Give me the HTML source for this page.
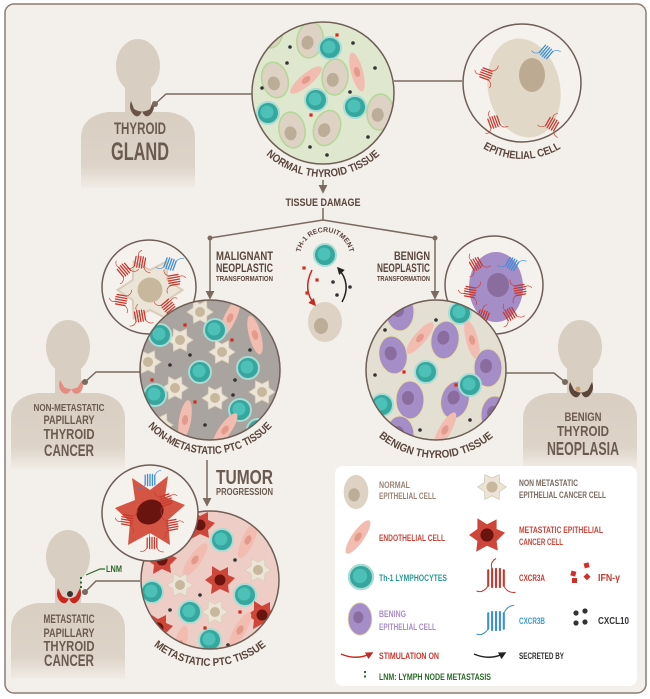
<!DOCTYPE html>
<html><head><meta charset="utf-8"><style>
html,body{margin:0;padding:0;background:#fff;}
svg{display:block;}
text{font-family:"Liberation Sans Narrow","Liberation Sans",sans-serif;font-weight:bold;}
</style></head><body>
<svg width="650" height="699" viewBox="0 0 650 699" xmlns="http://www.w3.org/2000/svg">
<defs>
<linearGradient id="pg" x1="0" y1="0" x2="0" y2="1"><stop offset="0" stop-color="#d9cec2"/><stop offset="0.7" stop-color="#ddd3c8"/><stop offset="1" stop-color="#f1ece6"/></linearGradient>
<g id="person"><ellipse cx="0" cy="0" rx="22" ry="27" fill="#d9cec2"/><rect x="-13" y="14" width="26" height="34" fill="#d9cec2"/><path d="M-57,122 L-57,72 Q-57,50 -30,46 L30,46 Q57,50 57,72 L57,122 Z" fill="url(#pg)"/></g>
<g id="egg"><ellipse rx="13" ry="18" fill="#ddd2c3" stroke="#b2d796" stroke-width="1.5"/><ellipse cx="-2" cy="3" rx="6" ry="7" fill="#bcad98"/></g>
<g id="egg2"><ellipse rx="13" ry="18" fill="#ddd2c3"/><ellipse cx="-2" cy="3" rx="6" ry="7" fill="#bcad98"/></g>
<g id="teal"><circle r="11" fill="#35a79f" stroke="#a8dcd4" stroke-width="2"/><circle cx="-1" cy="-1" r="6.5" fill="#4dc1b7"/></g>
<g id="sp"><ellipse rx="6" ry="20" fill="#f2bcb0"/><ellipse rx="3" ry="5" fill="#e39a8c"/></g>
<g id="star"><polygon points="13,0 6.9,4 6.5,11.3 0,8 -6.5,11.3 -6.9,4 -13,0 -6.9,-4 -6.5,-11.3 0,-8 6.5,-11.3 6.9,-4" fill="#ece4d6" stroke="#d8cdbb" stroke-width="0.8"/><circle r="5" fill="#c7b79d"/></g>
<g id="rstar"><polygon points="15,-2 8,5 9,13 0,9 -9,14 -8,5 -15,0 -8,-5 -8,-14 0,-9 8,-13 8,-5" fill="#cd4639"/><circle r="5.5" fill="#6a1410"/></g>
<g id="pur"><ellipse rx="14" ry="19" fill="#a58dc8" stroke="#e6dca6" stroke-width="1"/><ellipse cx="-2" cy="-2" rx="6" ry="7" fill="#8a6d9e"/></g>
<g id="rA"><path d="M-6,-6v12M-3,-7v14M0,-7v14M3,-7v14M6,-6v12" stroke="#c8382e" stroke-width="1.6" stroke-linecap="round"/><path d="M-6,6q-4,6-9,4M6,6q3,6 9,5M-3,-7q-2,-5 3,-8" stroke="#c8382e" fill="none" stroke-width="0.8"/></g>
<g id="rB"><path d="M-6,-6v12M-3,-7v14M0,-7v14M3,-7v14M6,-6v12" stroke="#3b8ed8" stroke-width="1.6" stroke-linecap="round"/><path d="M-6,6q-4,6-9,4M6,-6q3,-6 8,-6" stroke="#3b8ed8" fill="none" stroke-width="0.8"/></g>
<g id="d"><circle r="1.8" fill="#333"/></g>
<g id="q"><rect x="-1.6" y="-1.6" width="3.2" height="3.2" fill="#d42a20"/></g>
<clipPath id="c1"><circle cx="323" cy="93" r="71"/></clipPath>
<clipPath id="c2"><circle cx="210" cy="370" r="70"/></clipPath>
<clipPath id="c3"><circle cx="436" cy="370" r="70"/></clipPath>
<clipPath id="c4"><circle cx="210" cy="580" r="69"/></clipPath>
<marker id="ar" viewBox="0 0 10 10" refX="8" refY="5" markerWidth="6" markerHeight="6" orient="auto"><path d="M0,0L10,5L0,10z" fill="#7a6a60"/></marker>
<marker id="arr" viewBox="0 0 10 10" refX="8" refY="5" markerWidth="5" markerHeight="5" orient="auto"><path d="M0,0L10,5L0,10z" fill="#c8281e"/></marker>
<marker id="ark" viewBox="0 0 10 10" refX="8" refY="5" markerWidth="5" markerHeight="5" orient="auto"><path d="M0,0L10,5L0,10z" fill="#222"/></marker>
<path id="a1" d="M239,93 A84 84 0 0 0 407,93"/>
<path id="a2" d="M446,83 A76 76 0 0 0 598,83"/>
<path id="a3" d="M126,370 A84 84 0 0 0 294,370"/>
<path id="a4" d="M348,370 A88 88 0 0 0 524,370"/>
<path id="a5" d="M122,578 A88 88 0 0 0 298,578"/>
<path id="a6" d="M300,257 A25 25 0 0 1 350,257"/>
</defs>

<rect x="5" y="4" width="641" height="689" rx="9" fill="#f3efea" stroke="#8c7d73" stroke-width="1.5"/>

<use href="#person" transform="translate(138,66)"/>
<use href="#person" transform="translate(68,347)"/>
<use href="#person" transform="translate(580,347)"/>
<use href="#person" transform="translate(68,557)"/>

<path d="M131,101 q-3,8 3,14 q5,4 8,-4 q3,8 8,4 q6,-6 3,-14 l-3,8 q-8,5 -16,0z" fill="#6a5246"/>
<path d="M60,380 q-3,8 3,13 q5,3 8,-4 q3,7 8,4 q6,-5 3,-13 l-4,7 q-7,4 -14,0z" fill="#e88a80"/>
<path d="M570,382 q-3,9 3,14 q5,4 8,-4 q3,8 8,4 q6,-6 3,-14 l-4,8 q-7,5 -14,0z" fill="#5c463c"/>
<circle cx="578" cy="389" r="2.5" fill="#c9a070"/>
<path d="M58,588 q-3,9 3,14 q5,4 8,-4 q3,8 8,4 q6,-6 3,-14 l-4,8 q-7,5 -14,0z" fill="#c8261e"/>
<circle cx="70" cy="594" r="3" fill="#333"/>

<g stroke="#7a6a60" stroke-width="1.5" fill="none">
<path d="M155,104 L166,94 L252,94"/>
<path d="M394,81 L462,81"/>
<path d="M85,382 L96,372 L140,372"/>
<path d="M565,382 L554,373 L506,373"/>
<path d="M85,592 L96,581 L140,581"/>
<path d="M323,180 L323,192" marker-end="url(#ar)"/>
<path d="M323,208 L323,220 L210,238 L210,298" marker-end="url(#ar)"/>
<path d="M323,220 L435,238 L435,298" marker-end="url(#ar)"/>
<path d="M207,460 L207,505" marker-end="url(#ar)"/>
</g>
<g fill="#7a6a60"><circle cx="155" cy="104" r="3"/><circle cx="85" cy="382" r="3"/><circle cx="565" cy="382" r="3"/><circle cx="85" cy="592" r="3"/><circle cx="210" cy="238" r="2.5"/><circle cx="435" cy="238" r="2.5"/><circle cx="383" cy="90" r="2.5"/></g>
<path d="M81,577v12" stroke="#2b6a2b" stroke-width="2" stroke-dasharray="2,2.5"/>
<path d="M86,575 L100,569 L105,569" stroke="#2b6a2b" stroke-width="1.2" fill="none"/>
<text x="106" y="572" font-size="9" fill="#2b6a2b" textLength="16" lengthAdjust="spacingAndGlyphs">LNM</text>

<!-- normal tissue -->
<circle cx="323" cy="93" r="71" fill="#dfe7cf"/>
<g clip-path="url(#c1)">
<use href="#egg" transform="translate(310,40) rotate(10)"/>
<use href="#egg" transform="translate(275,80) rotate(-15)"/>
<use href="#egg" transform="translate(335,77) rotate(5)"/>
<use href="#egg" transform="translate(292,130) rotate(-10)"/>
<use href="#egg" transform="translate(327,128) rotate(20)"/>
<use href="#egg" transform="translate(380,112) rotate(5)"/>
<use href="#egg" transform="translate(270,30)"/>
<use href="#sp" transform="translate(306,80) rotate(50)"/>
<use href="#sp" transform="translate(357,72) rotate(-15)"/>
<use href="#teal" transform="translate(330,48)"/>
<use href="#teal" transform="translate(316,100)"/>
<use href="#teal" transform="translate(268,113)"/>
<use href="#teal" transform="translate(355,107)"/>
<use href="#d" x="290" y="47"/><use href="#d" x="353" y="43"/><use href="#d" x="375" y="68"/><use href="#d" x="262" y="88"/><use href="#d" x="350" y="92"/><use href="#d" x="310" y="147"/><use href="#d" x="327" y="155"/><use href="#d" x="368" y="137"/><use href="#d" x="287" y="63"/>
<use href="#q" x="337" y="35"/><use href="#q" x="311" y="115"/>
</g>
<circle cx="323" cy="93" r="71" fill="none" stroke="#6e5e55" stroke-width="1.5"/>
<text font-size="11" fill="#5a463c"><textPath href="#a1" startOffset="50%" text-anchor="middle" textLength="125" lengthAdjust="spacingAndGlyphs">NORMAL THYROID TISSUE</textPath></text>

<!-- epithelial cell -->
<circle cx="522" cy="83" r="59" fill="#f5f1ec" stroke="#6e5e55" stroke-width="1.5"/>
<ellipse cx="524" cy="88" rx="36" ry="50" transform="rotate(-12 524 88)" fill="#e2d8c8"/>
<ellipse cx="532" cy="75" rx="13" ry="17" fill="#bcab92"/>
<use href="#rA" transform="translate(486,74) rotate(-70) scale(0.8)"/>
<use href="#rA" transform="translate(494,122) rotate(-20) scale(0.8)"/>
<use href="#rA" transform="translate(552,124) rotate(30) scale(0.8)"/>
<use href="#rB" transform="translate(546,52) rotate(40) scale(0.8)"/>
<text font-size="11" fill="#5a463c"><textPath href="#a2" startOffset="50%" text-anchor="middle" textLength="82" lengthAdjust="spacingAndGlyphs">EPITHELIAL CELL</textPath></text>

<text x="323" y="206" font-size="11" fill="#5a463c" text-anchor="middle" textLength="75" lengthAdjust="spacingAndGlyphs">TISSUE DAMAGE</text>
<text x="216" y="260" font-size="12" fill="#5a463c" textLength="57" lengthAdjust="spacingAndGlyphs">MALIGNANT</text>
<text x="216" y="272" font-size="12" fill="#5a463c" textLength="57" lengthAdjust="spacingAndGlyphs">NEOPLASTIC</text>
<text x="216" y="281" font-size="7" fill="#5a463c" textLength="57" lengthAdjust="spacingAndGlyphs">TRANSFORMATION</text>
<text x="430" y="260" font-size="12" fill="#5a463c" text-anchor="end" textLength="36" lengthAdjust="spacingAndGlyphs">BENIGN</text>
<text x="430" y="272" font-size="12" fill="#5a463c" text-anchor="end" textLength="53" lengthAdjust="spacingAndGlyphs">NEOPLASTIC</text>
<text x="430" y="281" font-size="7" fill="#5a463c" text-anchor="end" textLength="53" lengthAdjust="spacingAndGlyphs">TRANSFORMATION</text>

<text font-size="7" fill="#5a463c"><textPath href="#a6" startOffset="50%" text-anchor="middle">TH-1 RECRUITMENT</textPath></text>
<use href="#teal" transform="translate(325,255)"/>
<ellipse cx="325" cy="322" rx="17" ry="20" fill="#ddd2c3"/><ellipse cx="321" cy="326" rx="7" ry="8" fill="#bcad98"/>
<path d="M312,270 Q302,290 315,305" stroke="#c8281e" stroke-width="1.5" fill="none" marker-end="url(#arr)"/>
<path d="M342,302 Q352,284 338,268" stroke="#222" stroke-width="1.5" fill="none" marker-end="url(#ark)"/>
<use href="#q" x="304" y="268"/><use href="#q" x="317" y="280"/><use href="#q" x="307" y="293"/>
<use href="#d" x="333" y="282"/><use href="#d" x="337" y="295"/><use href="#d" x="350" y="287"/>

<!-- malignant small -->
<circle cx="149" cy="287" r="47" fill="#f5f1ec" stroke="#6e5e55" stroke-width="1.5"/>
<use href="#star" transform="translate(150,290) scale(2.5)"/>
<use href="#rA" transform="translate(124,270) rotate(-40) scale(0.8)"/>
<use href="#rA" transform="translate(121,300) rotate(-80) scale(0.8)"/>
<use href="#rA" transform="translate(140,316) rotate(-10) scale(0.8)"/>
<use href="#rA" transform="translate(168,306) rotate(50) scale(0.8)"/>
<use href="#rA" transform="translate(174,280) rotate(80) scale(0.8)"/>
<use href="#rA" transform="translate(140,262) rotate(10) scale(0.8)"/>
<use href="#rB" transform="translate(170,264) rotate(20) scale(0.8)"/>

<!-- benign small -->
<circle cx="494" cy="285" r="49" fill="#f5f1ec" stroke="#6e5e55" stroke-width="1.5"/>
<ellipse cx="496" cy="287" rx="27" ry="35" fill="#a58dc8"/>
<ellipse cx="498" cy="285" rx="11" ry="12" fill="#8a6d9e"/>
<use href="#rA" transform="translate(476,264) rotate(-30) scale(0.8)"/>
<use href="#rA" transform="translate(470,292) rotate(-80) scale(0.8)"/>
<use href="#rA" transform="translate(483,316) rotate(20) scale(0.8)"/>
<use href="#rA" transform="translate(510,314) rotate(-30) scale(0.8)"/>
<use href="#rA" transform="translate(520,290) rotate(80) scale(0.8)"/>
<use href="#rB" transform="translate(512,264) rotate(30) scale(0.8)"/>

<!-- non-met PTC -->
<circle cx="210" cy="370" r="70" fill="#aaa4a0"/>
<g clip-path="url(#c2)">
<use href="#star" transform="translate(200,312)"/>
<use href="#sp" transform="translate(230,318) rotate(25)"/>
<use href="#teal" transform="translate(215,330)"/>
<use href="#star" transform="translate(180,340)"/>
<use href="#star" transform="translate(148,362)"/>
<use href="#teal" transform="translate(160,335)"/>
<use href="#star" transform="translate(222,352)"/>
<use href="#sp" transform="translate(255,335) rotate(-15)"/>
<use href="#teal" transform="translate(248,368)"/>
<use href="#star" transform="translate(262,392)"/>
<use href="#teal" transform="translate(200,372)"/>
<use href="#star" transform="translate(175,388)"/>
<use href="#teal" transform="translate(155,395)"/>
<use href="#star" transform="translate(215,398)"/>
<use href="#teal" transform="translate(240,410)"/>
<use href="#sp" transform="translate(185,420) rotate(10)"/>
<use href="#sp" transform="translate(225,430) rotate(35)"/>
<use href="#star" transform="translate(160,425)"/>
<use href="#teal" transform="translate(258,430)"/>
<use href="#d" x="190" y="355"/><use href="#d" x="235" y="380"/><use href="#d" x="205" y="425"/><use href="#d" x="170" y="365"/><use href="#d" x="250" y="350"/><use href="#d" x="195" y="440"/><use href="#d" x="233" y="395"/>
<use href="#q" x="185" y="325"/><use href="#q" x="232" y="340"/><use href="#q" x="195" y="402"/><use href="#q" x="152" y="380"/>
</g>
<circle cx="210" cy="370" r="70" fill="none" stroke="#6e5e55" stroke-width="1.5"/>
<text font-size="11" fill="#5a463c"><textPath href="#a3" startOffset="50%" text-anchor="middle" textLength="140" lengthAdjust="spacingAndGlyphs">NON-METASTATIC PTC TISSUE</textPath></text>

<!-- benign tissue -->
<circle cx="436" cy="370" r="70" fill="#e4dfd3"/>
<g clip-path="url(#c3)">
<use href="#pur" transform="translate(400,312)"/>
<use href="#pur" transform="translate(445,340) rotate(10)"/>
<use href="#sp" transform="translate(420,338) rotate(40)"/>
<use href="#teal" transform="translate(460,313)"/>
<use href="#sp" transform="translate(472,340) rotate(-15)"/>
<use href="#pur" transform="translate(393,355) rotate(-10)"/>
<use href="#teal" transform="translate(426,372)"/>
<use href="#pur" transform="translate(488,368)"/>
<use href="#pur" transform="translate(410,400)"/>
<use href="#teal" transform="translate(382,405)"/>
<use href="#pur" transform="translate(455,400) rotate(15)"/>
<use href="#teal" transform="translate(470,385)"/>
<use href="#pur" transform="translate(495,415)"/>
<use href="#sp" transform="translate(445,430) rotate(30)"/>
<use href="#teal" transform="translate(492,440)"/>
<use href="#pur" transform="translate(400,435)"/>
<use href="#d" x="375" y="375"/><use href="#d" x="436" y="320"/><use href="#d" x="470" y="420"/><use href="#d" x="420" y="430"/><use href="#d" x="385" y="330"/><use href="#d" x="505" y="350"/>
<use href="#q" x="404" y="372"/><use href="#q" x="456" y="385"/>
</g>
<circle cx="436" cy="370" r="70" fill="none" stroke="#6e5e55" stroke-width="1.5"/>
<text font-size="11" fill="#5a463c"><textPath href="#a4" startOffset="50%" text-anchor="middle" textLength="125" lengthAdjust="spacingAndGlyphs">BENIGN THYROID TISSUE</textPath></text>

<text x="216" y="484" font-size="20" fill="#6b5a50" textLength="57" lengthAdjust="spacingAndGlyphs">TUMOR</text>
<text x="216" y="495" font-size="10" fill="#6b5a50" textLength="57" lengthAdjust="spacingAndGlyphs">PROGRESSION</text>

<!-- metastatic PTC -->
<circle cx="210" cy="580" r="69" fill="#eecdc6"/>
<g clip-path="url(#c4)">
<use href="#rstar" transform="translate(200,525)"/>
<use href="#teal" transform="translate(222,540)"/>
<use href="#sp" transform="translate(248,540) rotate(25)"/>
<use href="#rstar" transform="translate(162,560)"/>
<use href="#sp" transform="translate(195,560) rotate(35)"/>
<use href="#star" transform="translate(258,570)"/>
<use href="#teal" transform="translate(152,592)"/>
<use href="#rstar" transform="translate(220,580)"/>
<use href="#teal" transform="translate(245,595)"/>
<use href="#star" transform="translate(180,585)"/>
<use href="#rstar" transform="translate(262,615)"/>
<use href="#teal" transform="translate(190,612)"/>
<use href="#star" transform="translate(215,612)"/>
<use href="#rstar" transform="translate(158,628)"/>
<use href="#sp" transform="translate(240,630) rotate(30)"/>
<use href="#teal" transform="translate(210,640)"/>
<use href="#sp" transform="translate(180,645) rotate(15)"/>
<use href="#d" x="175" y="545"/><use href="#d" x="235" y="560"/><use href="#d" x="200" y="595"/><use href="#d" x="170" y="610"/><use href="#d" x="228" y="645"/><use href="#d" x="255" y="650"/>
<use href="#q" x="188" y="540"/><use href="#q" x="240" y="612"/><use href="#q" x="205" y="628"/>
</g>
<circle cx="210" cy="580" r="69" fill="none" stroke="#6e5e55" stroke-width="1.5"/>
<text font-size="11" fill="#5a463c"><textPath href="#a5" startOffset="50%" text-anchor="middle" textLength="122" lengthAdjust="spacingAndGlyphs">METASTATIC PTC TISSUE</textPath></text>

<!-- metastatic small -->
<circle cx="150" cy="513" r="48" fill="#f5f1ec" stroke="#6e5e55" stroke-width="1.5"/>
<polygon points="185,505 168,520 170,545 150,533 128,545 130,522 115,508 135,500 132,478 150,490 168,476 165,497" fill="#d55545"/>
<ellipse cx="150" cy="512" rx="14" ry="12" fill="#6a1410" transform="rotate(-30 150 512)"/>
<use href="#rA" transform="translate(127,520) rotate(-80) scale(0.8)"/>
<use href="#rA" transform="translate(172,525) rotate(80) scale(0.8)"/>
<use href="#rA" transform="translate(166,500) rotate(70) scale(0.8)"/>
<use href="#rA" transform="translate(152,543) rotate(0) scale(0.8)"/>
<use href="#rB" transform="translate(150,480) scale(0.8)"/>

<!-- person texts -->
<text x="140" y="134" font-size="17" fill="#6b5a50" text-anchor="middle" textLength="52" lengthAdjust="spacingAndGlyphs">THYROID</text>
<text x="140" y="160" font-size="25" fill="#6b5a50" text-anchor="middle" textLength="58" lengthAdjust="spacingAndGlyphs">GLAND</text>
<text x="69" y="411" font-size="10" fill="#6b5a50" text-anchor="middle" textLength="71" lengthAdjust="spacingAndGlyphs">NON-METASTATIC</text>
<text x="69" y="424" font-size="12" fill="#6b5a50" text-anchor="middle" textLength="51" lengthAdjust="spacingAndGlyphs">PAPILLARY</text>
<text x="69" y="439" font-size="15" fill="#6b5a50" text-anchor="middle" textLength="51" lengthAdjust="spacingAndGlyphs">THYROID</text>
<text x="69" y="456" font-size="17" fill="#6b5a50" text-anchor="middle" textLength="50" lengthAdjust="spacingAndGlyphs">CANCER</text>
<text x="583" y="421" font-size="12" fill="#6b5a50" text-anchor="middle" textLength="37" lengthAdjust="spacingAndGlyphs">BENIGN</text>
<text x="583" y="436" font-size="15" fill="#6b5a50" text-anchor="middle" textLength="52" lengthAdjust="spacingAndGlyphs">THYROID</text>
<text x="583" y="455" font-size="18" fill="#6b5a50" text-anchor="middle" textLength="72" lengthAdjust="spacingAndGlyphs">NEOPLASIA</text>
<text x="69" y="623" font-size="12" fill="#6b5a50" text-anchor="middle" textLength="51" lengthAdjust="spacingAndGlyphs">METASTATIC</text>
<text x="69" y="637" font-size="12" fill="#6b5a50" text-anchor="middle" textLength="51" lengthAdjust="spacingAndGlyphs">PAPILLARY</text>
<text x="69" y="651" font-size="15" fill="#6b5a50" text-anchor="middle" textLength="51" lengthAdjust="spacingAndGlyphs">THYROID</text>
<text x="69" y="666" font-size="17" fill="#6b5a50" text-anchor="middle" textLength="50" lengthAdjust="spacingAndGlyphs">CANCER</text>

<!-- legend -->
<rect x="335" y="466" width="302" height="220" rx="8" fill="#fff"/>
<g font-size="9" lengthAdjust="spacingAndGlyphs">
<use href="#egg2" transform="translate(356,492) scale(0.95)"/>
<text x="379" y="488" fill="#9a8475" textLength="31" lengthAdjust="spacingAndGlyphs">NORMAL</text><text x="379" y="499" fill="#9a8475" textLength="57" lengthAdjust="spacingAndGlyphs">EPITHELIAL CELL</text>
<use href="#star" transform="translate(492,487) scale(1.1)"/>
<text x="519" y="486" fill="#7a6a60" textLength="59" lengthAdjust="spacingAndGlyphs">NON METASTATIC</text><text x="519" y="498" fill="#7a6a60" textLength="87" lengthAdjust="spacingAndGlyphs">EPITHELIAL CANCER CELL</text>
<use href="#sp" transform="translate(358,537) rotate(35)"/>
<text x="379" y="541" fill="#c8463a" textLength="66" lengthAdjust="spacingAndGlyphs">ENDOTHELIAL CELL</text>
<use href="#rstar" transform="translate(487,535) scale(1.2)"/>
<text x="519" y="533" fill="#c8463a" textLength="84" lengthAdjust="spacingAndGlyphs">METASTATIC EPITHELIAL</text><text x="519" y="545" fill="#c8463a" textLength="44" lengthAdjust="spacingAndGlyphs">CANCER CELL</text>
<use href="#teal" transform="translate(361,577) scale(1.1)"/>
<text x="379" y="581" fill="#2a9a90" textLength="68" lengthAdjust="spacingAndGlyphs">Th-1 LYMPHOCYTES</text>
<use href="#rA" transform="translate(496,578) scale(1.3)"/>
<text x="519" y="581" fill="#c8382e" textLength="26" lengthAdjust="spacingAndGlyphs">CXCR3A</text>
<rect x="571" y="571" width="5" height="5" fill="#d0302a" transform="rotate(15 573 573)"/><rect x="584" y="563" width="5" height="5" fill="#d0302a" transform="rotate(-15 586 565)"/><rect x="572" y="578" width="5" height="5" fill="#d0302a"/><rect x="585" y="574" width="5" height="5" fill="#d0302a" transform="rotate(45 587 576)"/>
<text x="598" y="581" font-size="10" fill="#c8382e" textLength="22" lengthAdjust="spacingAndGlyphs">IFN-γ</text>
<use href="#pur" transform="translate(360,619) scale(0.85)"/>
<text x="379" y="617" fill="#a88cc8" textLength="27" lengthAdjust="spacingAndGlyphs">BENING</text><text x="379" y="630" fill="#a88cc8" textLength="57" lengthAdjust="spacingAndGlyphs">EPITHELIAL CELL</text>
<use href="#rB" transform="translate(496,621) scale(1.3)"/>
<text x="519" y="624" fill="#3b9ad8" textLength="26" lengthAdjust="spacingAndGlyphs">CXCR3B</text>
<circle cx="576" cy="613" r="2.6" fill="#333"/><circle cx="585" cy="611" r="2.6" fill="#333"/><circle cx="576" cy="623" r="2.6" fill="#333"/><circle cx="585" cy="622" r="2.6" fill="#333"/>
<text x="598" y="624" font-size="10" fill="#333" textLength="31" lengthAdjust="spacingAndGlyphs">CXCL10</text>
<path d="M341,654 Q357,661 372,653" stroke="#c8281e" stroke-width="1.5" fill="none" marker-end="url(#arr)"/>
<text x="379" y="659" fill="#c8382e" textLength="60" lengthAdjust="spacingAndGlyphs">STIMULATION ON</text>
<path d="M474,654 Q490,661 505,653" stroke="#222" stroke-width="1.5" fill="none" marker-end="url(#ark)"/>
<text x="519" y="659" fill="#333" textLength="45" lengthAdjust="spacingAndGlyphs">SECRETED BY</text>
<path d="M365,671v9" stroke="#2b6a2b" stroke-width="2" stroke-dasharray="2,2.5"/>
<text x="379" y="680" fill="#2b6a2b" textLength="112" lengthAdjust="spacingAndGlyphs">LNM: LYMPH NODE METASTASIS</text>
</g>
</svg>
</body></html>
